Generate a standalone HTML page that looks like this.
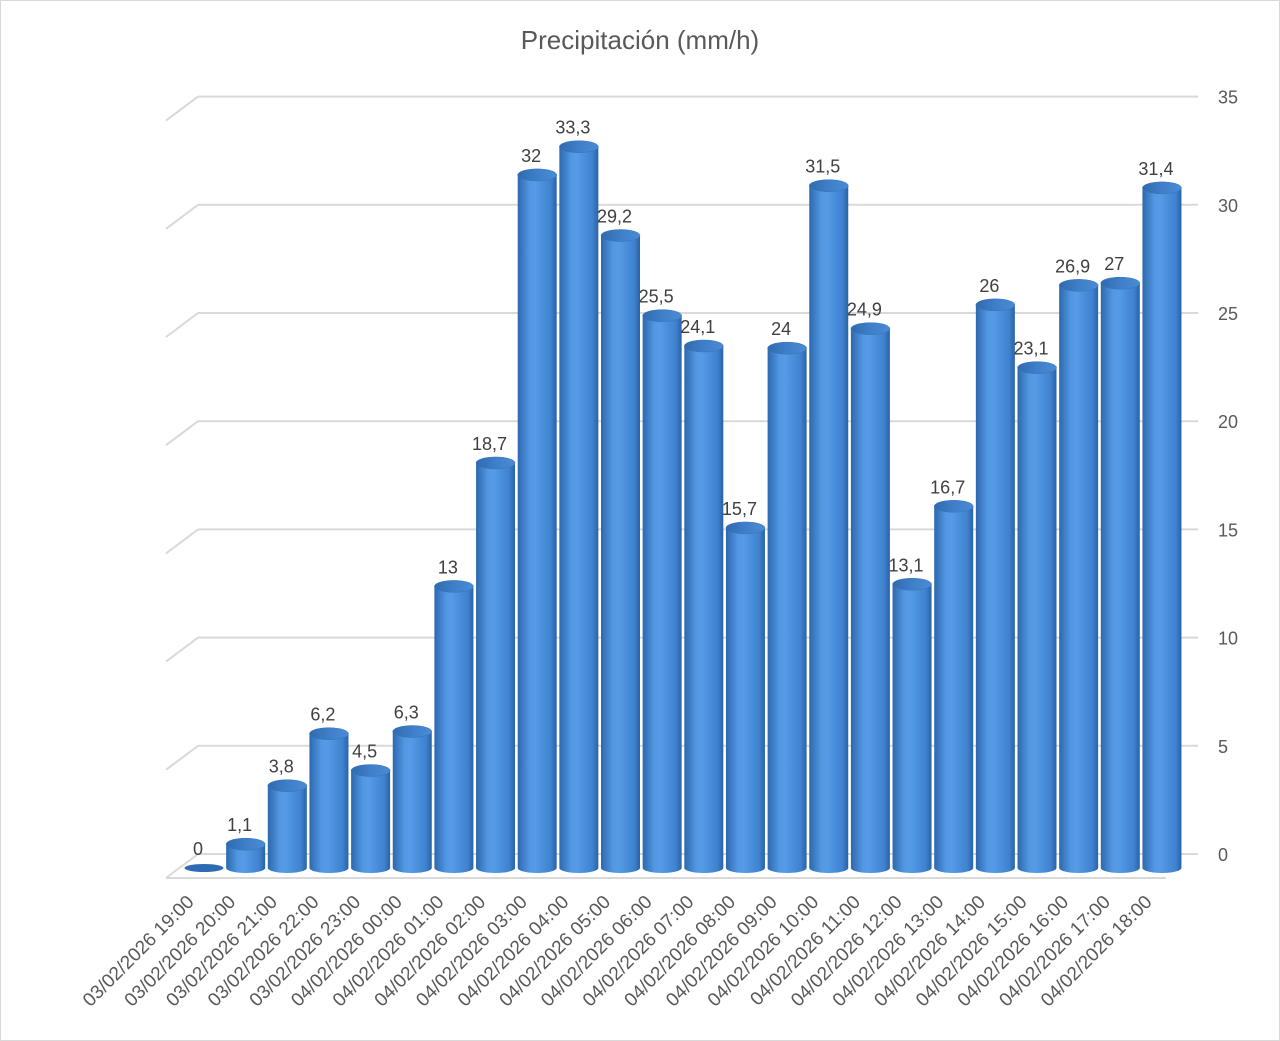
<!DOCTYPE html>
<html><head><meta charset="utf-8"><style>
html,body{margin:0;padding:0;background:#fff;}
svg{display:block;font-family:"Liberation Sans",sans-serif;}
</style></head><body>
<svg id="c" width="1280" height="1041" viewBox="0 0 1280 1041" xmlns="http://www.w3.org/2000/svg">
<defs>
<linearGradient id="g" x1="0" x2="1" y1="0" y2="0">
<stop offset="0" stop-color="#2d68ad"/>
<stop offset="0.3" stop-color="#5197e2"/>
<stop offset="0.45" stop-color="#559be6"/>
<stop offset="0.85" stop-color="#3f82cf"/>
<stop offset="1" stop-color="#2a62a6"/>
</linearGradient>
<linearGradient id="t" x1="0" x2="1" y1="0" y2="0">
<stop offset="0" stop-color="#2f6aae"/>
<stop offset="0.5" stop-color="#3f7fc9"/>
<stop offset="1" stop-color="#4a8bd6"/>
</linearGradient>
</defs>
<rect x="0.5" y="0.5" width="1279" height="1040" fill="#fff" stroke="#d9d9d9"/>
<text x="640" y="49" text-anchor="middle" font-size="26" fill="#595959">Precipitación (mm/h)</text>
<g id="grid"></g>
<g id="bars"></g>
</svg>
<script>
const vals=[0,1.1,3.8,6.2,4.5,6.3,13,18.7,32,33.3,29.2,25.5,24.1,15.7,24,31.5,24.9,13.1,16.7,26,23.1,26.9,27,31.4];
const labs=["03/02/2026 19:00","03/02/2026 20:00","03/02/2026 21:00","03/02/2026 22:00","03/02/2026 23:00","04/02/2026 00:00","04/02/2026 01:00","04/02/2026 02:00","04/02/2026 03:00","04/02/2026 04:00","04/02/2026 05:00","04/02/2026 06:00","04/02/2026 07:00","04/02/2026 08:00","04/02/2026 09:00","04/02/2026 10:00","04/02/2026 11:00","04/02/2026 12:00","04/02/2026 13:00","04/02/2026 14:00","04/02/2026 15:00","04/02/2026 16:00","04/02/2026 17:00","04/02/2026 18:00"];
let g='';
for(let i=0;i<=7;i++){
 const y=854-i*108.2;
 g+=`<line x1="198" y1="${y}" x2="1198" y2="${y}" stroke="#d9d9d9" stroke-width="2"/>`;
 g+=`<line x1="198" y1="${y}" x2="166" y2="${y+24}" stroke="#d9d9d9" stroke-width="2"/>`;
 g+=`<text x="1218" y="${y+7}" font-size="18" fill="#595959">${i*5}</text>`;
}
g+=`<line x1="166" y1="878" x2="1166" y2="878" stroke="#d9d9d9" stroke-width="2"/>`;
document.getElementById('grid').innerHTML=g;
let b='';
const rx=19.5;
vals.forEach((v,i)=>{
 const cx=204+i*41.65, base=868, top=868-v*21.66;
 if(v===0){
  b+=`<ellipse cx="${cx}" cy="${base}" rx="${rx}" ry="4" fill="#2e6bb2"/>`;
 } else {
  b+=`<path d="M${cx-rx},${top} L${cx-rx},${base} A${rx},5 0 0 0 ${cx+rx},${base} L${cx+rx},${top} Z" fill="url(#g)"/>`;
  b+=`<ellipse cx="${cx}" cy="${top}" rx="${rx}" ry="6" fill="url(#t)" stroke="#3575c0" stroke-width="0.5"/>`;
 }
 const lab=String(v).replace('.',',');
 b+=`<text x="${cx-6}" y="${top-13}" text-anchor="middle" font-size="18" fill="#404040">${lab}</text>`;
 const lx=cx-9, ly=903;
 b+=`<text x="${lx}" y="${ly}" text-anchor="end" font-size="19" fill="#595959" transform="rotate(-45 ${lx} ${ly})">${labs[i]}</text>`;
});
document.getElementById('bars').innerHTML=b;
</script>
</body></html>
